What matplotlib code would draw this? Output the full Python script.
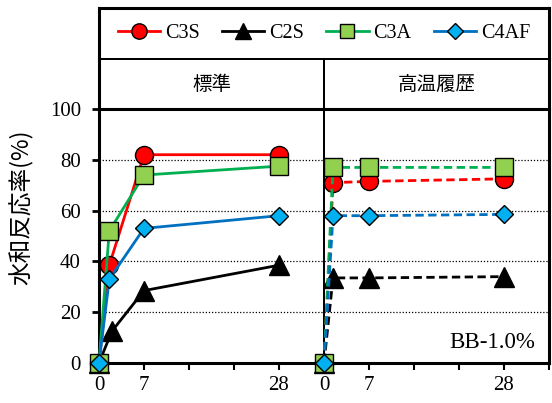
import matplotlib
matplotlib.use("Agg")
import matplotlib.pyplot as plt
from matplotlib.lines import Line2D

# ---- data -------------------------------------------------------------
series_names = ["C3S", "C2S", "C3A", "C4AF"]

std_x = [0, 1.6, 7, 28]
std_x_c2s = [0, 2.0, 7, 28]
hot_x = [0, 1.4, 7, 28]

std_c3s = [0, 38.5, 82, 82]
std_c2s = [0, 12.5, 28.5, 38.5]
std_c3a = [0, 52, 74, 77.5]
std_c4af = [0, 33, 53, 58]

hot_c3s = [0, 71, 71.5, 72.5]
hot_c2s = [0, 33.5, 33.5, 34]
hot_c3a = [0, 77, 77, 77]
hot_c4af = [0, 58, 58, 58.5]

panel_titles = ["標準", "高温履歴"]
x_ticks = [0, 7, 14, 21, 28, 35]
x_tick_labels = ["0", "7", "", "", "28", ""]
y_ticks = [0, 20, 40, 60, 80, 100]
y_label = "水和反応率(%)"
note = "BB-1.0%"

# ---- styles -----------------------------------------------------------
SERIF = "Liberation Serif"
CJK = ["Noto Sans CJK JP", "DejaVu Sans"]
styles = {
    "C3S": dict(color="#FF0000", marker="o", mfc="#FF0000", ms=13),
    "C2S": dict(color="#000000", marker="^", mfc="#000000", ms=14),
    "C3A": dict(color="#00B050", marker="s", mfc="#92D050", ms=12.5),
    "C4AF": dict(color="#0070C0", marker="D", mfc="#00B0F0", ms=9.5),
}

W, H = 552, 403
fig = plt.figure(figsize=(W / 100, H / 100), dpi=100)


def box(x0, y0, x1, y1):
    return [x0 / W, 1 - y1 / H, (x1 - x0) / W, (y1 - y0) / H]


THICK = 2.2
MID = 1.4

ax1 = fig.add_axes(box(99, 109, 324, 363))
ax2 = fig.add_axes(box(324, 109, 549, 363), sharey=ax1)
hdr1 = fig.add_axes(box(99, 59, 324, 109))
hdr2 = fig.add_axes(box(324, 59, 549, 109))
axl = fig.add_axes(box(99, 8, 549, 59))

std_data = [(std_x, std_c3s), (std_x_c2s, std_c2s), (std_x, std_c3a), (std_x, std_c4af)]
hot_data = [(hot_x, hot_c3s), (hot_x, hot_c2s), (hot_x, hot_c3a), (hot_x, hot_c4af)]

for name, (xs, ys) in zip(series_names, std_data):
    st = styles[name]
    ax1.plot(xs, ys, color=st["color"], lw=2.0, marker=st["marker"], ms=st["ms"],
             mfc=st["mfc"], mec="black", mew=1.0, clip_on=False, zorder=3)

for name, (xs, ys) in zip(series_names, hot_data):
    st = styles[name]
    ax2.plot(xs, ys, color=st["color"], lw=2.0, ls=(0, (3, 1.6)), marker=st["marker"],
             ms=st["ms"], mfc=st["mfc"], mec="black", mew=1.0, clip_on=False, zorder=3)

for ax in (ax1, ax2):
    ax.set_xlim(0, 35)
    ax.set_ylim(0, 100)
    ax.set_xticks(x_ticks)
    ax.set_xticklabels(x_tick_labels, fontfamily=SERIF, fontsize=15)
    ax.set_yticks(y_ticks)
    for y in y_ticks[1:-1]:
        ax.axhline(y, color="black", lw=0.9, ls=(0, (1, 1.5)), zorder=1)
    ax.tick_params(axis="x", direction="out", length=5, width=1.5, pad=4)
    ax.tick_params(axis="y", direction="out", length=5, width=2.0, pad=8)
    for s in ("top", "bottom"):
        ax.spines[s].set_linewidth(THICK)
    ax.set_facecolor("none")

ax1.spines["left"].set_linewidth(THICK)
ax1.spines["right"].set_linewidth(MID)
ax2.spines["left"].set_linewidth(MID)
ax2.spines["right"].set_linewidth(THICK)
ax1.set_yticklabels([str(v) for v in y_ticks], fontfamily=SERIF, fontsize=15)
ax2.tick_params(axis="y", left=False, labelleft=False)

ax2.text(0.94, 0.08, note, transform=ax2.transAxes, ha="right", va="center",
         fontfamily=SERIF, fontsize=16.5)

fig.text(22 / W, 1 - 207 / H, y_label, rotation=90, ha="center", va="center",
         fontfamily=CJK, fontsize=17)

# ---- header row -------------------------------------------------------
for hdr, title in zip((hdr1, hdr2), panel_titles):
    hdr.set_xticks([])
    hdr.set_yticks([])
    hdr.set_facecolor("none")
    hdr.text(0.5, 0.5, title, ha="center", va="center", fontfamily=CJK, fontsize=14,
             transform=hdr.transAxes)
    for s in hdr.spines.values():
        s.set_linewidth(MID)
hdr1.spines["left"].set_linewidth(THICK)
hdr2.spines["right"].set_linewidth(THICK)

# ---- legend box -------------------------------------------------------
axl.set_xticks([])
axl.set_yticks([])
axl.set_facecolor("none")
for s in ("top", "left", "right"):
    axl.spines[s].set_linewidth(THICK)
axl.spines["bottom"].set_linewidth(MID)
handles = [Line2D([], [], color=styles[n]["color"], lw=2.0, marker=styles[n]["marker"],
                  ms=styles[n]["ms"] * 0.85, mfc=styles[n]["mfc"], mec="black", mew=1.0)
           for n in series_names]
axl.legend(handles, series_names, loc="center", ncol=4, frameon=False,
           prop={"family": SERIF, "size": 14.5}, handlelength=2.1, handletextpad=0.25,
           columnspacing=1.1, borderaxespad=0)

fig.savefig("out.png", dpi=100)
